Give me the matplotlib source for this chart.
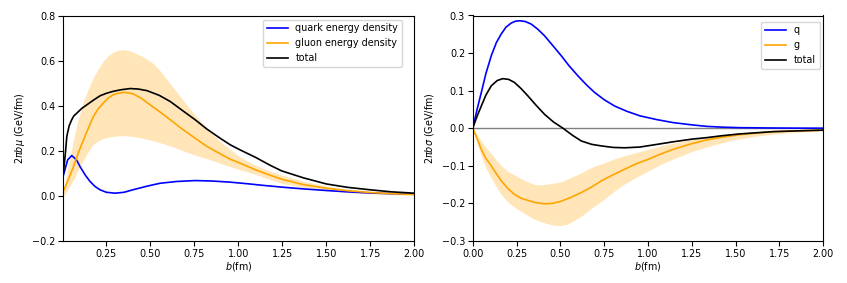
import numpy as np
import matplotlib
matplotlib.use("Agg")
import matplotlib.pyplot as plt

# ---------- Left panel data (energy density) ----------
bq_L = [0.005, 0.03, 0.053, 0.08, 0.10, 0.13, 0.157, 0.185, 0.214, 0.25, 0.30, 0.35, 0.40, 0.48, 0.555, 0.65, 0.754, 0.85, 0.953, 1.05, 1.15, 1.246, 1.37, 1.498, 1.62, 1.748, 1.87, 2.0]
q_L = [0.09, 0.16, 0.179, 0.16, 0.13, 0.092, 0.064, 0.042, 0.027, 0.016, 0.012, 0.016, 0.027, 0.043, 0.056, 0.064, 0.068, 0.066, 0.061, 0.054, 0.046, 0.039, 0.031, 0.024, 0.018, 0.013, 0.010, 0.0075]

bg_L = [0.005, 0.035, 0.063, 0.09, 0.12, 0.15, 0.176, 0.205, 0.233, 0.26, 0.29, 0.32, 0.347, 0.375, 0.403, 0.45, 0.498, 0.555, 0.612, 0.68, 0.754, 0.82, 0.896, 0.953, 1.01, 1.1, 1.18, 1.246, 1.37, 1.5, 1.62, 1.75, 1.87, 2.0]
g_L = [0.02, 0.075, 0.13, 0.19, 0.249, 0.305, 0.352, 0.388, 0.412, 0.434, 0.449, 0.456, 0.459, 0.457, 0.452, 0.432, 0.404, 0.372, 0.338, 0.297, 0.256, 0.22, 0.187, 0.163, 0.145, 0.115, 0.092, 0.074, 0.05, 0.034, 0.023, 0.015, 0.01, 0.006]

bt_L = [0.005, 0.012, 0.018, 0.025, 0.038, 0.053, 0.065, 0.082, 0.11, 0.139, 0.175, 0.214, 0.25, 0.29, 0.335, 0.385, 0.43, 0.48, 0.55, 0.612, 0.68, 0.754, 0.82, 0.896, 0.953, 1.01, 1.1, 1.18, 1.246, 1.37, 1.5, 1.62, 1.75, 1.87, 2.0]
t_L = [0.10, 0.15, 0.20, 0.264, 0.31, 0.338, 0.355, 0.367, 0.388, 0.404, 0.424, 0.444, 0.455, 0.464, 0.471, 0.476, 0.474, 0.467, 0.446, 0.419, 0.38, 0.338, 0.297, 0.256, 0.227, 0.204, 0.17, 0.136, 0.111, 0.08, 0.053, 0.038, 0.027, 0.018, 0.012]

bb_L = [0.005, 0.035, 0.063, 0.09, 0.12, 0.15, 0.176, 0.205, 0.231, 0.26, 0.288, 0.315, 0.344, 0.372, 0.402, 0.43, 0.458, 0.487, 0.515, 0.555, 0.61, 0.67, 0.72, 0.78, 0.84, 0.896, 0.953, 1.01, 1.1, 1.18, 1.246, 1.37, 1.5, 1.62, 1.75, 1.87, 2.0]
gup_L = [0.02, 0.14, 0.25, 0.34, 0.42, 0.48, 0.525, 0.565, 0.597, 0.622, 0.638, 0.646, 0.649, 0.646, 0.637, 0.628, 0.617, 0.603, 0.588, 0.555, 0.5, 0.44, 0.39, 0.335, 0.285, 0.242, 0.206, 0.172, 0.135, 0.11, 0.093, 0.065, 0.044, 0.03, 0.02, 0.013, 0.009]
glo_L = [-0.005, 0.035, 0.071, 0.115, 0.16, 0.2, 0.23, 0.245, 0.254, 0.26, 0.264, 0.266, 0.267, 0.266, 0.263, 0.26, 0.255, 0.25, 0.245, 0.236, 0.222, 0.205, 0.19, 0.175, 0.16, 0.145, 0.13, 0.116, 0.095, 0.073, 0.056, 0.037, 0.024, 0.015, 0.009, 0.005, 0.003]

# ---------- Right panel data (shear) ----------
bq_R = [0.0, 0.025, 0.049, 0.075, 0.106, 0.135, 0.163, 0.19, 0.22, 0.245, 0.268, 0.3, 0.334, 0.37, 0.41, 0.455, 0.505, 0.55, 0.601, 0.65, 0.696, 0.75, 0.81, 0.88, 0.954, 1.05, 1.144, 1.25, 1.335, 1.42, 1.525, 1.7, 1.85, 2.0]
q_R = [0.0, 0.05, 0.095, 0.145, 0.193, 0.228, 0.251, 0.269, 0.28, 0.285, 0.286, 0.284, 0.277, 0.264, 0.246, 0.221, 0.193, 0.166, 0.139, 0.115, 0.095, 0.076, 0.059, 0.045, 0.033, 0.023, 0.015, 0.009, 0.005, 0.003, 0.0015, 0.0007, 0.0003, 0.0001]

bg_R = [0.0, 0.025, 0.049, 0.075, 0.106, 0.135, 0.163, 0.2, 0.238, 0.275, 0.315, 0.36, 0.41, 0.455, 0.505, 0.56, 0.62, 0.68, 0.734, 0.8, 0.867, 0.93, 1.0, 1.07, 1.144, 1.25, 1.335, 1.42, 1.525, 1.62, 1.715, 1.85, 2.0]
g_R = [0.0, -0.027, -0.056, -0.08, -0.1, -0.121, -0.14, -0.16, -0.176, -0.186, -0.192, -0.198, -0.201, -0.2, -0.194, -0.184, -0.171, -0.156, -0.14, -0.124, -0.109, -0.095, -0.083, -0.069, -0.056, -0.041, -0.031, -0.024, -0.017, -0.013, -0.009, -0.007, -0.005]

bt_R = [0.0, 0.025, 0.049, 0.075, 0.106, 0.14, 0.172, 0.205, 0.238, 0.275, 0.315, 0.36, 0.41, 0.46, 0.515, 0.57, 0.62, 0.68, 0.734, 0.8, 0.867, 0.954, 1.05, 1.144, 1.25, 1.335, 1.42, 1.525, 1.62, 1.715, 1.85, 2.0]
t_R = [0.0, 0.032, 0.059, 0.088, 0.113, 0.127, 0.132, 0.13, 0.122, 0.106, 0.086, 0.062, 0.037, 0.017, 0.0, -0.019, -0.034, -0.043, -0.047, -0.051, -0.052, -0.05, -0.043, -0.036, -0.029, -0.025, -0.02, -0.015, -0.012, -0.009, -0.007, -0.005]

bb_R = [0.0, 0.025, 0.049, 0.075, 0.106, 0.13, 0.163, 0.2, 0.25, 0.3, 0.35, 0.375, 0.42, 0.46, 0.5, 0.543, 0.58, 0.625, 0.657, 0.7, 0.75, 0.8, 0.86, 0.93, 1.0, 1.1, 1.25, 1.37, 1.5, 1.62, 1.75, 1.87, 2.0]
gup_R = [0.0, -0.016, -0.034, -0.05, -0.068, -0.082, -0.1, -0.115, -0.127, -0.14, -0.149, -0.151, -0.149, -0.146, -0.143, -0.135, -0.127, -0.117, -0.109, -0.1, -0.092, -0.083, -0.074, -0.065, -0.056, -0.044, -0.029, -0.02, -0.013, -0.009, -0.006, -0.004, -0.003]
glo_R = [0.0, -0.04, -0.074, -0.105, -0.133, -0.152, -0.176, -0.196, -0.214, -0.228, -0.242, -0.246, -0.253, -0.258, -0.259, -0.255, -0.245, -0.232, -0.22, -0.205, -0.189, -0.17, -0.15, -0.131, -0.114, -0.09, -0.062, -0.045, -0.03, -0.021, -0.014, -0.01, -0.007]

plt.rcParams['font.family'] = ['DejaVu Sans']
plt.rcParams['font.size'] = 6.9
plt.rcParams['mathtext.fontset'] = 'dejavusans'

W, H = 847, 283
fig = plt.figure(figsize=(W / 100, H / 100), dpi=100)
axL = fig.add_axes([63.3/W, 42/H, 351/W, 225.5/H])
axR = fig.add_axes([472.7/W, 42/H, 350.6/W, 225.5/H])

lw = 1.2
orange = 'orange'

# Left
axL.fill_between(bb_L, glo_L, gup_L, color=orange, alpha=0.28, lw=0)
axL.plot(bq_L, q_L, color='blue', lw=lw, label='quark energy density')
axL.plot(bg_L, g_L, color=orange, lw=lw, label='gluon energy density')
axL.plot(bt_L, t_L, color='black', lw=lw, label='total')
axL.set_xlim(0.005, 2.0)
axL.set_ylim(-0.2, 0.8)
axL.set_xticks([0.25, 0.5, 0.75, 1.0, 1.25, 1.5, 1.75, 2.0])
axL.set_yticks([-0.2, 0.0, 0.2, 0.4, 0.6, 0.8])
axL.set_xlabel(r'$b$(fm)', labelpad=1)
axL.set_ylabel(r'$2\pi b\mu$ (GeV/fm)', labelpad=4)
axL.legend(loc='upper right', bbox_to_anchor=(402/W, 1 - 19.5/H), bbox_transform=fig.transFigure,
           borderaxespad=0, fontsize=6.9, handlelength=2.2)

# Right
axR.fill_between(bb_R, glo_R, gup_R, color=orange, alpha=0.28, lw=0)
axR.axhline(0.0, color='gray', lw=1.0)
axR.plot(bq_R, q_R, color='blue', lw=lw, label='q')
axR.plot(bg_R, g_R, color=orange, lw=lw, label='g')
axR.plot(bt_R, t_R, color='black', lw=lw, label='total')
axR.set_xlim(0.0, 2.0)
axR.set_ylim(-0.3, 0.3)
axR.set_xticks([0.0, 0.25, 0.5, 0.75, 1.0, 1.25, 1.5, 1.75, 2.0])
axR.set_yticks([-0.3, -0.2, -0.1, 0.0, 0.1, 0.2, 0.3])
axR.set_xlabel(r'$b$(fm)', labelpad=1)
axR.set_ylabel(r'$2\pi b\sigma$ (GeV/fm)', labelpad=4)
axR.legend(loc='upper right', bbox_to_anchor=(819.5/W, 1 - 21.5/H), bbox_transform=fig.transFigure,
           borderaxespad=0, fontsize=6.9, handlelength=2.2)

for ax in (axL, axR):
    ax.tick_params(length=3.5, width=0.8, pad=2)

fig.savefig('out.png', dpi=100)
